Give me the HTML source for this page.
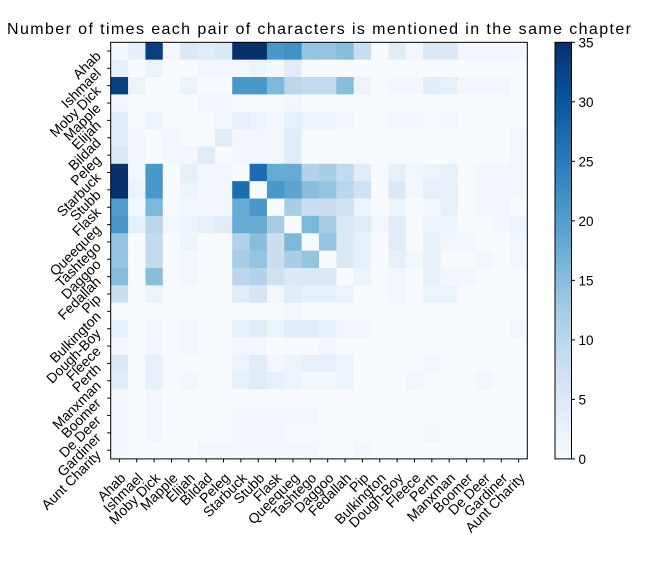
<!DOCTYPE html>
<html><head><meta charset="utf-8"><style>
html,body{margin:0;padding:0;background:#fff;width:656px;height:574px;overflow:hidden}
svg{font-family:"Liberation Sans","DejaVu Sans",sans-serif}
</style></head><body>
<svg id="c" width="656" height="574" xmlns="http://www.w3.org/2000/svg">
<text x="319" y="34" font-size="16" text-anchor="middle" textLength="624">Number of times each pair of characters is mentioned in the same chapter</text>
</svg>
<script>
const characters = ["Ahab","Ishmael","Moby Dick","Mapple","Elijah","Bildad","Peleg","Starbuck","Stubb","Flask","Queequeg","Tashtego","Daggoo","Fedallah","Pip","Bulkington","Dough-Boy","Fleece","Perth","Manxman","Boomer","De Deer","Gardiner","Aunt Charity"];
const matrix = [
[0.5,3,33,1,5,4,5,35,35,21,22,14,14,15,8,0,4,1,5,5,1,1,1,1],
[3,0,2,0,0,1,1,1,2,1,4,0,0,0,0,0,0,0,0,0,0,0,0,0],
[33,2,0,0,2,0,0,21,21,16,10,9,9,15,2,0,1,1,4,3,1,1,1,0],
[1,0,0,0,0,1,1,0,0,0,1,0,0,0,0,0,0,0,0,0,0,0,0,0],
[4,0,2,0,0,0,1,3,2,1,3,2,2,1,0,0,1,1,0,1,0,0,0,0],
[4,1,0,1,0,0,4,1,1,1,4,0,0,0,0,0,0,0,0,0,0,0,0,1],
[5,1,0,1,1,4,0,1,1,1,4,0,0,0,0,0,0,0,0,0,0,0,0,1],
[35,1,21,0,3,1,1,0,27,18,18,11,12,9,4,0,3,1,2,3,0,1,1,1],
[35,2,21,0,2,1,1,27,0,21,19,15,14,10,7,0,5,1,3,3,0,1,1,1],
[20,1,16,0,1,1,1,18,21,0,12,8,8,7,2,0,2,0,1,3,0,1,1,0],
[21,3,10,1,2,3,4,18,18,12,0,16,12,5,4,1,4,0,2,2,0,0,1,2],
[14,0,9,0,2,0,0,11,15,8,16,0,14,5,3,0,4,0,3,1,1,0,0,1],
[14,0,9,0,1,0,0,12,14,8,12,14,0,5,3,0,3,1,3,0,0,1,0,1],
[15,0,15,0,1,0,0,10,11,7,5,5,5,0,2,0,1,0,3,1,1,0,0,0],
[8,0,2,0,0,0,0,4,6,1,4,3,3,2,0,0,1,0,2,2,0,0,0,0],
[0,0,0,0,0,0,0,0,0,0,1,0,0,0,0,0,0,0,0,0,0,0,0,0],
[3,0,1,0,1,0,0,3,4,2,4,4,3,1,1,0,0,0,0,0,0,0,0,1],
[1,0,1,0,1,0,0,1,1,0,0,0,1,0,0,0,0,0,0,0,0,0,0,0],
[5,0,3,0,0,0,0,2,4,1,2,3,3,2,0,0,0,0,1,0,0,0,0,0],
[4,0,3,0,1,0,0,3,4,3,2,1,1,2,0,0,0,1,0,0,0,1,0,0],
[1,0,1,0,0,0,0,0,0,0,0,0,0,0,0,0,0,0,0,0,0,0,0,0],
[1,0,1,0,0,0,0,1,1,1,1,1,0,0,0,0,0,0,0,0,0,0,0,0],
[1,0,1,0,0,0,0,1,1,1,0,0,0,0,0,0,0,0,1,0,0,0,0,0],
[1,0,0,0,0,1,1,1,1,1,1,1,0,0,1,0,0,0,0,0,0,0,0,0]
];
const cbTicks = [0,5,10,15,20,25,30,35];
const vmax = 35;

const NS="http://www.w3.org/2000/svg";
const svg=document.getElementById('c');
const X0=110.7,Y0=42.3,W=416.6,H=416.6;
const n=characters.length, cw=W/n, ch=H/n;
const xs=i=>X0+i*cw, ys=i=>Y0+i*ch;
const stops=[[247,251,255],[222,235,247],[198,219,239],[158,202,225],[107,174,214],[66,146,198],[33,113,181],[8,81,156],[8,48,107]];
function color(v){let t=Math.max(0,Math.min(1,v/vmax))*8;let i=Math.min(7,Math.floor(t)),f=t-i;
const a=stops[i],b=stops[i+1];return `rgb(${a.map((c,k)=>Math.round(c+(b[k]-c)*f)).join(',')})`;}
function mk(tag,attrs,parent){const e=document.createElementNS(NS,tag);for(const k in attrs)e.setAttribute(k,attrs[k]);(parent||svg).appendChild(e);return e;}

const g=mk('g',{});


matrix.forEach((row,r)=>row.forEach((v,c)=>{
  const e=mk('rect',{x:xs(c),y:ys(r),width:cw+0.5,height:ch+0.5,fill:color(v)},g);
  
  
}));
const fr=mk('rect',{x:X0,y:Y0,width:W,height:H,fill:'none',stroke:'#000','stroke-width':1});



characters.forEach((name,i)=>{
  const cx=xs(i)+cw/2, cy=ys(i)+ch/2;
  mk('line',{x1:cx,y1:Y0+H,x2:cx,y2:Y0+H+3.5,stroke:'#000'});
  mk('line',{x1:X0,y1:cy,x2:X0-3.5,y2:cy,stroke:'#000'});
  const tx=mk('text',{x:0,y:0,'font-size':14,'text-anchor':'end',transform:`translate(${cx+7},${Y0+H+20}) rotate(-45)`});
  tx.textContent=name;
  
  
  const ty=mk('text',{x:0,y:0,'font-size':14,'text-anchor':'end',transform:`translate(${X0-9},${cy+6}) rotate(-45)`});
  ty.textContent=name;
  
  
});

// colorbar
const CX=555,CW=16.5,CY=42.3,CH=416.6;
const defs=mk('defs',{});
const lg=mk('linearGradient',{id:'cbg',x1:0,y1:1,x2:0,y2:0},defs);
stops.forEach((s,i)=>mk('stop',{offset:i/8,'stop-color':`rgb(${s.join(',')})`},lg));
const cb=mk('rect',{x:CX,y:CY,width:CW,height:CH,fill:'url(#cbg)',stroke:'#000','stroke-width':1});


cbTicks.forEach(t=>{
  const y=CY+CH-(t/vmax)*CH;
  mk('line',{x1:CX+CW,y1:y,x2:CX+CW+3.5,y2:y,stroke:'#000'});
  const e=mk('text',{x:CX+CW+7,y:y+5,'font-size':13.5});
  e.textContent=t;
  
  
});
</script>
</body></html>
